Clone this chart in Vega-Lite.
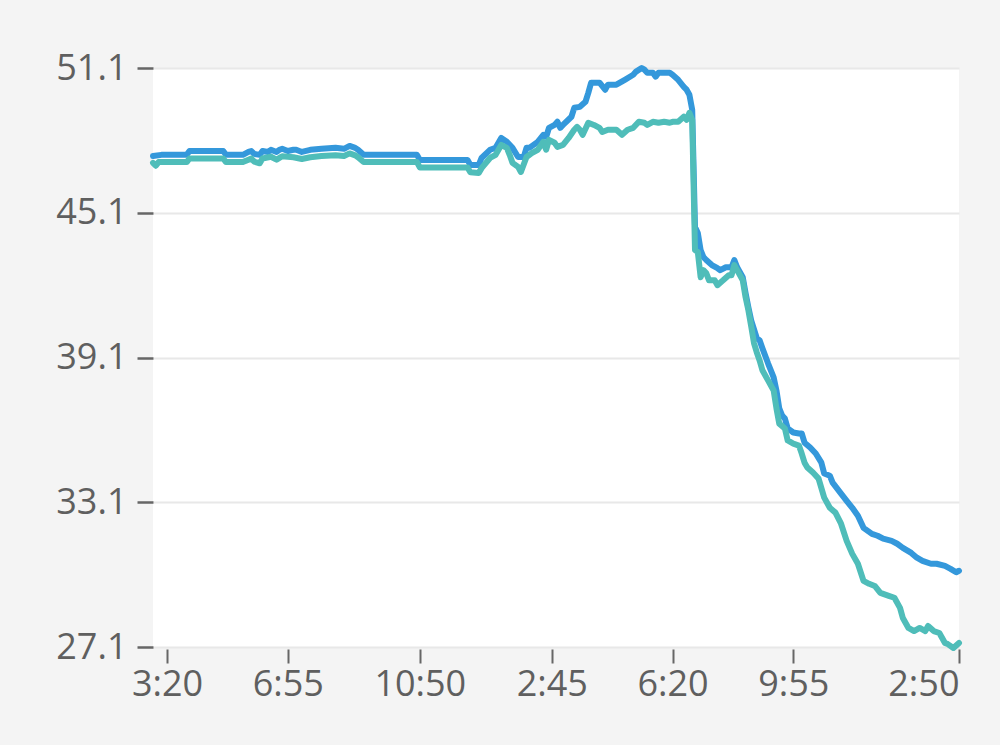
{
  "$schema": "https://vega.github.io/schema/vega-lite/v6.json",
  "autosize": "none",
  "width": 806,
  "height": 579,
  "padding": {"left": 153, "top": 68, "right": 41, "bottom": 98},
  "background": "#f4f4f4",
  "config": {
    "view": {"fill": "#ffffff", "stroke": null},
    "font": "Open Sans"
  },
  "data": {"values": [
    {"t":"2024-01-01T02:55","s":"A","v":47.45},{"t":"2024-01-01T03:10","s":"A","v":47.5},{"t":"2024-01-01T03:55","s":"A","v":47.5},{"t":"2024-01-01T04:00","s":"A","v":47.66},{"t":"2024-01-01T05:00","s":"A","v":47.66},{"t":"2024-01-01T05:05","s":"A","v":47.5},{"t":"2024-01-01T05:35","s":"A","v":47.5},{"t":"2024-01-01T05:45","s":"A","v":47.62},{"t":"2024-01-01T05:50","s":"A","v":47.66},{"t":"2024-01-01T05:55","s":"A","v":47.54},{"t":"2024-01-01T06:05","s":"A","v":47.5},{"t":"2024-01-01T06:10","s":"A","v":47.66},{"t":"2024-01-01T06:20","s":"A","v":47.62},{"t":"2024-01-01T06:25","s":"A","v":47.71},{"t":"2024-01-01T06:35","s":"A","v":47.62},{"t":"2024-01-01T06:40","s":"A","v":47.71},{"t":"2024-01-01T06:45","s":"A","v":47.75},{"t":"2024-01-01T06:55","s":"A","v":47.66},{"t":"2024-01-01T07:05","s":"A","v":47.71},{"t":"2024-01-01T07:10","s":"A","v":47.71},{"t":"2024-01-01T07:20","s":"A","v":47.62},{"t":"2024-01-01T07:35","s":"A","v":47.71},{"t":"2024-01-01T07:55","s":"A","v":47.75},{"t":"2024-01-01T08:20","s":"A","v":47.79},{"t":"2024-01-01T08:35","s":"A","v":47.75},{"t":"2024-01-01T08:45","s":"A","v":47.87},{"t":"2024-01-01T08:55","s":"A","v":47.79},{"t":"2024-01-01T09:00","s":"A","v":47.71},{"t":"2024-01-01T09:10","s":"A","v":47.5},{"t":"2024-01-01T10:45","s":"A","v":47.5},{"t":"2024-01-01T10:50","s":"A","v":47.29},{"t":"2024-01-01T12:15","s":"A","v":47.29},{"t":"2024-01-01T12:20","s":"A","v":47.08},{"t":"2024-01-01T12:35","s":"A","v":47.08},{"t":"2024-01-01T12:40","s":"A","v":47.37},{"t":"2024-01-01T12:55","s":"A","v":47.71},{"t":"2024-01-01T13:05","s":"A","v":47.79},{"t":"2024-01-01T13:15","s":"A","v":48.2},{"t":"2024-01-01T13:25","s":"A","v":48.04},{"t":"2024-01-01T13:35","s":"A","v":47.79},{"t":"2024-01-01T13:45","s":"A","v":47.41},{"t":"2024-01-01T13:55","s":"A","v":47.41},{"t":"2024-01-01T14:00","s":"A","v":47.79},{"t":"2024-01-01T14:05","s":"A","v":47.79},{"t":"2024-01-01T14:20","s":"A","v":48.04},{"t":"2024-01-01T14:30","s":"A","v":48.33},{"t":"2024-01-01T14:35","s":"A","v":48.25},{"t":"2024-01-01T14:40","s":"A","v":48.62},{"t":"2024-01-01T14:50","s":"A","v":48.74},{"t":"2024-01-01T14:55","s":"A","v":48.87},{"t":"2024-01-01T15:00","s":"A","v":48.62},{"t":"2024-01-01T15:05","s":"A","v":48.74},{"t":"2024-01-01T15:20","s":"A","v":49.08},{"t":"2024-01-01T15:25","s":"A","v":49.45},{"t":"2024-01-01T15:35","s":"A","v":49.49},{"t":"2024-01-01T15:45","s":"A","v":49.7},{"t":"2024-01-01T15:50","s":"A","v":50.07},{"t":"2024-01-01T15:55","s":"A","v":50.49},{"t":"2024-01-01T16:10","s":"A","v":50.49},{"t":"2024-01-01T16:20","s":"A","v":50.2},{"t":"2024-01-01T16:25","s":"A","v":50.41},{"t":"2024-01-01T16:40","s":"A","v":50.41},{"t":"2024-01-01T16:55","s":"A","v":50.61},{"t":"2024-01-01T17:10","s":"A","v":50.82},{"t":"2024-01-01T17:15","s":"A","v":50.95},{"t":"2024-01-01T17:25","s":"A","v":51.1},{"t":"2024-01-01T17:30","s":"A","v":51.03},{"t":"2024-01-01T17:35","s":"A","v":50.9},{"t":"2024-01-01T17:45","s":"A","v":50.9},{"t":"2024-01-01T17:50","s":"A","v":50.74},{"t":"2024-01-01T17:55","s":"A","v":50.9},{"t":"2024-01-01T18:15","s":"A","v":50.9},{"t":"2024-01-01T18:20","s":"A","v":50.82},{"t":"2024-01-01T18:30","s":"A","v":50.61},{"t":"2024-01-01T18:40","s":"A","v":50.32},{"t":"2024-01-01T18:45","s":"A","v":50.2},{"t":"2024-01-01T18:50","s":"A","v":49.99},{"t":"2024-01-01T18:55","s":"A","v":49.37},{"t":"2024-01-01T19:00","s":"A","v":44.51},{"t":"2024-01-01T19:05","s":"A","v":44.26},{"t":"2024-01-01T19:10","s":"A","v":43.55},{"t":"2024-01-01T19:15","s":"A","v":43.26},{"t":"2024-01-01T19:20","s":"A","v":43.14},{"t":"2024-01-01T19:30","s":"A","v":42.93},{"t":"2024-01-01T19:40","s":"A","v":42.8},{"t":"2024-01-01T19:45","s":"A","v":42.72},{"t":"2024-01-01T19:55","s":"A","v":42.84},{"t":"2024-01-01T20:05","s":"A","v":42.84},{"t":"2024-01-01T20:10","s":"A","v":43.14},{"t":"2024-01-01T20:15","s":"A","v":42.84},{"t":"2024-01-01T20:25","s":"A","v":42.43},{"t":"2024-01-01T20:30","s":"A","v":41.77},{"t":"2024-01-01T20:35","s":"A","v":41.18},{"t":"2024-01-01T20:40","s":"A","v":40.64},{"t":"2024-01-01T20:50","s":"A","v":39.9},{"t":"2024-01-01T20:55","s":"A","v":39.81},{"t":"2024-01-01T21:00","s":"A","v":39.48},{"t":"2024-01-01T21:10","s":"A","v":38.86},{"t":"2024-01-01T21:20","s":"A","v":38.28},{"t":"2024-01-01T21:25","s":"A","v":37.73},{"t":"2024-01-01T21:30","s":"A","v":36.99},{"t":"2024-01-01T21:35","s":"A","v":36.7},{"t":"2024-01-01T21:40","s":"A","v":36.57},{"t":"2024-01-01T21:45","s":"A","v":36.16},{"t":"2024-01-01T21:55","s":"A","v":35.99},{"t":"2024-01-01T22:05","s":"A","v":35.95},{"t":"2024-01-01T22:10","s":"A","v":35.95},{"t":"2024-01-01T22:15","s":"A","v":35.57},{"t":"2024-01-01T22:25","s":"A","v":35.37},{"t":"2024-01-01T22:35","s":"A","v":35.12},{"t":"2024-01-01T22:45","s":"A","v":34.74},{"t":"2024-01-01T22:50","s":"A","v":34.29},{"t":"2024-01-01T23:00","s":"A","v":34.2},{"t":"2024-01-01T23:05","s":"A","v":33.91},{"t":"2024-01-01T23:20","s":"A","v":33.46},{"t":"2024-01-01T23:30","s":"A","v":33.16},{"t":"2024-01-01T23:40","s":"A","v":32.87},{"t":"2024-01-01T23:50","s":"A","v":32.54},{"t":"2024-01-02T00:00","s":"A","v":32.04},{"t":"2024-01-02T00:15","s":"A","v":31.79},{"t":"2024-01-02T00:25","s":"A","v":31.71},{"t":"2024-01-02T00:35","s":"A","v":31.59},{"t":"2024-01-02T00:50","s":"A","v":31.5},{"t":"2024-01-02T01:00","s":"A","v":31.38},{"t":"2024-01-02T01:10","s":"A","v":31.21},{"t":"2024-01-02T01:25","s":"A","v":31.0},{"t":"2024-01-02T01:35","s":"A","v":30.8},{"t":"2024-01-02T01:45","s":"A","v":30.67},{"t":"2024-01-02T02:00","s":"A","v":30.55},{"t":"2024-01-02T02:10","s":"A","v":30.55},{"t":"2024-01-02T02:25","s":"A","v":30.46},{"t":"2024-01-02T02:35","s":"A","v":30.34},{"t":"2024-01-02T02:45","s":"A","v":30.2},{"t":"2024-01-02T02:50","s":"A","v":30.26},
    {"t":"2024-01-01T02:55","s":"B","v":47.17},{"t":"2024-01-01T03:00","s":"B","v":47.05},{"t":"2024-01-01T03:05","s":"B","v":47.2},{"t":"2024-01-01T03:55","s":"B","v":47.2},{"t":"2024-01-01T04:00","s":"B","v":47.35},{"t":"2024-01-01T05:00","s":"B","v":47.35},{"t":"2024-01-01T05:05","s":"B","v":47.2},{"t":"2024-01-01T05:35","s":"B","v":47.2},{"t":"2024-01-01T05:45","s":"B","v":47.3},{"t":"2024-01-01T05:50","s":"B","v":47.35},{"t":"2024-01-01T05:55","s":"B","v":47.22},{"t":"2024-01-01T06:05","s":"B","v":47.15},{"t":"2024-01-01T06:10","s":"B","v":47.35},{"t":"2024-01-01T06:25","s":"B","v":47.42},{"t":"2024-01-01T06:35","s":"B","v":47.3},{"t":"2024-01-01T06:45","s":"B","v":47.44},{"t":"2024-01-01T07:05","s":"B","v":47.4},{"t":"2024-01-01T07:20","s":"B","v":47.33},{"t":"2024-01-01T07:35","s":"B","v":47.4},{"t":"2024-01-01T07:55","s":"B","v":47.45},{"t":"2024-01-01T08:20","s":"B","v":47.48},{"t":"2024-01-01T08:35","s":"B","v":47.45},{"t":"2024-01-01T08:45","s":"B","v":47.56},{"t":"2024-01-01T08:55","s":"B","v":47.48},{"t":"2024-01-01T09:00","s":"B","v":47.4},{"t":"2024-01-01T09:10","s":"B","v":47.2},{"t":"2024-01-01T10:45","s":"B","v":47.2},{"t":"2024-01-01T10:50","s":"B","v":46.98},{"t":"2024-01-01T12:15","s":"B","v":46.98},{"t":"2024-01-01T12:20","s":"B","v":46.78},{"t":"2024-01-01T12:35","s":"B","v":46.75},{"t":"2024-01-01T12:40","s":"B","v":46.95},{"t":"2024-01-01T12:55","s":"B","v":47.37},{"t":"2024-01-01T13:05","s":"B","v":47.5},{"t":"2024-01-01T13:15","s":"B","v":47.91},{"t":"2024-01-01T13:25","s":"B","v":47.79},{"t":"2024-01-01T13:30","s":"B","v":47.5},{"t":"2024-01-01T13:35","s":"B","v":47.17},{"t":"2024-01-01T13:45","s":"B","v":47.0},{"t":"2024-01-01T13:50","s":"B","v":46.79},{"t":"2024-01-01T14:00","s":"B","v":47.41},{"t":"2024-01-01T14:10","s":"B","v":47.58},{"t":"2024-01-01T14:20","s":"B","v":47.71},{"t":"2024-01-01T14:30","s":"B","v":48.04},{"t":"2024-01-01T14:35","s":"B","v":47.71},{"t":"2024-01-01T14:40","s":"B","v":48.12},{"t":"2024-01-01T14:50","s":"B","v":48.0},{"t":"2024-01-01T14:55","s":"B","v":47.83},{"t":"2024-01-01T15:05","s":"B","v":47.91},{"t":"2024-01-01T15:15","s":"B","v":48.2},{"t":"2024-01-01T15:25","s":"B","v":48.54},{"t":"2024-01-01T15:30","s":"B","v":48.66},{"t":"2024-01-01T15:35","s":"B","v":48.54},{"t":"2024-01-01T15:40","s":"B","v":48.33},{"t":"2024-01-01T15:50","s":"B","v":48.83},{"t":"2024-01-01T16:00","s":"B","v":48.74},{"t":"2024-01-01T16:10","s":"B","v":48.62},{"t":"2024-01-01T16:15","s":"B","v":48.45},{"t":"2024-01-01T16:25","s":"B","v":48.54},{"t":"2024-01-01T16:40","s":"B","v":48.54},{"t":"2024-01-01T16:50","s":"B","v":48.33},{"t":"2024-01-01T17:00","s":"B","v":48.54},{"t":"2024-01-01T17:10","s":"B","v":48.62},{"t":"2024-01-01T17:20","s":"B","v":48.87},{"t":"2024-01-01T17:30","s":"B","v":48.83},{"t":"2024-01-01T17:35","s":"B","v":48.74},{"t":"2024-01-01T17:45","s":"B","v":48.87},{"t":"2024-01-01T17:55","s":"B","v":48.83},{"t":"2024-01-01T18:05","s":"B","v":48.87},{"t":"2024-01-01T18:15","s":"B","v":48.83},{"t":"2024-01-01T18:20","s":"B","v":48.87},{"t":"2024-01-01T18:30","s":"B","v":48.87},{"t":"2024-01-01T18:40","s":"B","v":49.08},{"t":"2024-01-01T18:45","s":"B","v":48.95},{"t":"2024-01-01T18:50","s":"B","v":49.24},{"t":"2024-01-01T18:55","s":"B","v":48.95},{"t":"2024-01-01T19:00","s":"B","v":43.55},{"t":"2024-01-01T19:05","s":"B","v":43.47},{"t":"2024-01-01T19:10","s":"B","v":42.43},{"t":"2024-01-01T19:15","s":"B","v":42.72},{"t":"2024-01-01T19:20","s":"B","v":42.6},{"t":"2024-01-01T19:25","s":"B","v":42.3},{"t":"2024-01-01T19:35","s":"B","v":42.3},{"t":"2024-01-01T19:40","s":"B","v":42.1},{"t":"2024-01-01T19:50","s":"B","v":42.3},{"t":"2024-01-01T20:00","s":"B","v":42.51},{"t":"2024-01-01T20:05","s":"B","v":42.51},{"t":"2024-01-01T20:10","s":"B","v":42.93},{"t":"2024-01-01T20:15","s":"B","v":42.72},{"t":"2024-01-01T20:25","s":"B","v":42.3},{"t":"2024-01-01T20:30","s":"B","v":41.6},{"t":"2024-01-01T20:35","s":"B","v":41.06},{"t":"2024-01-01T20:40","s":"B","v":40.4},{"t":"2024-01-01T20:45","s":"B","v":39.7},{"t":"2024-01-01T20:50","s":"B","v":39.31},{"t":"2024-01-01T20:55","s":"B","v":38.98},{"t":"2024-01-01T21:00","s":"B","v":38.57},{"t":"2024-01-01T21:10","s":"B","v":38.15},{"t":"2024-01-01T21:20","s":"B","v":37.73},{"t":"2024-01-01T21:25","s":"B","v":36.99},{"t":"2024-01-01T21:30","s":"B","v":36.36},{"t":"2024-01-01T21:40","s":"B","v":36.16},{"t":"2024-01-01T21:45","s":"B","v":35.66},{"t":"2024-01-01T21:55","s":"B","v":35.53},{"t":"2024-01-01T22:05","s":"B","v":35.45},{"t":"2024-01-01T22:10","s":"B","v":35.12},{"t":"2024-01-01T22:15","s":"B","v":34.74},{"t":"2024-01-01T22:20","s":"B","v":34.54},{"t":"2024-01-01T22:30","s":"B","v":34.33},{"t":"2024-01-01T22:40","s":"B","v":34.08},{"t":"2024-01-01T22:50","s":"B","v":33.29},{"t":"2024-01-01T23:00","s":"B","v":32.87},{"t":"2024-01-01T23:10","s":"B","v":32.67},{"t":"2024-01-01T23:20","s":"B","v":32.21},{"t":"2024-01-01T23:30","s":"B","v":31.5},{"t":"2024-01-01T23:40","s":"B","v":30.96},{"t":"2024-01-01T23:50","s":"B","v":30.55},{"t":"2024-01-02T00:00","s":"B","v":29.84},{"t":"2024-01-02T00:10","s":"B","v":29.72},{"t":"2024-01-02T00:20","s":"B","v":29.63},{"t":"2024-01-02T00:30","s":"B","v":29.34},{"t":"2024-01-02T00:45","s":"B","v":29.22},{"t":"2024-01-02T00:55","s":"B","v":29.14},{"t":"2024-01-02T01:05","s":"B","v":28.72},{"t":"2024-01-02T01:10","s":"B","v":28.3},{"t":"2024-01-02T01:20","s":"B","v":27.89},{"t":"2024-01-02T01:30","s":"B","v":27.76},{"t":"2024-01-02T01:40","s":"B","v":27.89},{"t":"2024-01-02T01:50","s":"B","v":27.76},{"t":"2024-01-02T01:55","s":"B","v":27.97},{"t":"2024-01-02T02:05","s":"B","v":27.76},{"t":"2024-01-02T02:15","s":"B","v":27.68},{"t":"2024-01-02T02:25","s":"B","v":27.27},{"t":"2024-01-02T02:30","s":"B","v":27.22},{"t":"2024-01-02T02:40","s":"B","v":27.06},{"t":"2024-01-02T02:50","s":"B","v":27.27}
  ]},
  "mark": {"type": "line", "strokeWidth": 6, "strokeJoin": "round", "strokeCap": "round", "clip": false},
  "encoding": {
    "x": {
      "field": "t", "type": "temporal",
      "scale": {"domain": [{"year": 2024, "month": 1, "date": 1, "hours": 2, "minutes": 55}, {"year": 2024, "month": 1, "date": 2, "hours": 2, "minutes": 50}]},
      "axis": {
        "title": null,
        "values": [
          {"year": 2024, "month": 1, "date": 1, "hours": 3, "minutes": 20},
          {"year": 2024, "month": 1, "date": 1, "hours": 6, "minutes": 55},
          {"year": 2024, "month": 1, "date": 1, "hours": 10, "minutes": 50},
          {"year": 2024, "month": 1, "date": 1, "hours": 14, "minutes": 45},
          {"year": 2024, "month": 1, "date": 1, "hours": 18, "minutes": 20},
          {"year": 2024, "month": 1, "date": 1, "hours": 21, "minutes": 55},
          {"year": 2024, "month": 1, "date": 2, "hours": 2, "minutes": 50}
        ],
        "format": "%-I:%M",
        "grid": false,
        "domain": false,
        "ticks": true,
        "tickSize": 14,
        "tickWidth": 2,
        "tickColor": "#666666",
        "offset": 2,
        "labelFont": "Open Sans",
        "labelFontSize": 36,
        "labelColor": "#5f5f5f",
        "labelPadding": 4,
        "labelFlush": true,
        "labelOverlap": false
      }
    },
    "y": {
      "field": "v", "type": "quantitative",
      "scale": {"domain": [27.1, 51.1], "nice": false, "zero": false},
      "axis": {
        "title": null,
        "values": [27.1, 33.1, 39.1, 45.1, 51.1],
        "format": ".1f",
        "domain": false,
        "grid": true,
        "gridColor": "#e8e8e8",
        "gridWidth": 2,
        "tickSize": 16,
        "tickWidth": 2.5,
        "tickColor": "#666666",
        "labelFont": "Open Sans",
        "labelFontSize": 36,
        "labelColor": "#5f5f5f",
        "labelPadding": 10,
        "labelOverlap": false
      }
    },
    "color": {
      "field": "s", "type": "nominal",
      "scale": {"domain": ["A", "B"], "range": ["#3498db", "#4fbdb9"]},
      "legend": null
    }
  }
}
